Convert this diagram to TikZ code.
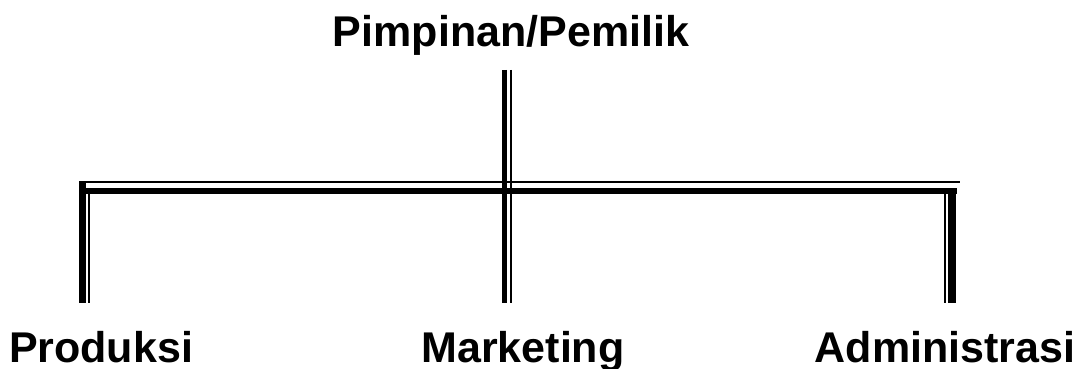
\documentclass[tikz,border=0pt]{standalone}
\usepackage{fontspec}
\setmainfont{Liberation Sans}
\begin{document}
\begin{tikzpicture}[x=1pt,y=-1pt,
  lbl/.style={font=\fontsize{43}{50}\selectfont\bfseries, inner sep=0pt, anchor=base},
  heavy/.style={line width=6.5pt, line cap=butt},
  light/.style={line width=1.8pt, line cap=butt}]
\useasboundingbox (0,0) rectangle (1080,369);
% labels
\node[lbl] (top) at (511,47) {Pimpinan/Pemilik};
\node[lbl] (prod) at (101,362) {Produksi};
\node[lbl] (mark) at (523,362) {Marketing};
\node[lbl] (adm) at (945,362) {Administrasi};
% junction coordinates
\coordinate (hL) at (79,191);
\coordinate (hR) at (957,191);
\coordinate (tL) at (79,181.8);
\coordinate (tR) at (960,181.8);
\coordinate (mTopA) at (504.5,70);
\coordinate (mTopB) at (511,70);
\coordinate (mBotA) at (504.5,303);
\coordinate (mBotB) at (511,303);
\coordinate (lTopA) at (82.5,181);
\coordinate (lBotA) at (82.5,303);
\coordinate (lTopB) at (89,194);
\coordinate (lBotB) at (89,303);
\coordinate (rTopA) at (952,188);
\coordinate (rBotA) at (952,303);
\coordinate (rTopB) at (945,194);
\coordinate (rBotB) at (945,303);
% horizontal bar (thin over thick)
\draw[light] (tL) -- (tR);
\draw[heavy] (hL) -- (hR);
% left branch
\draw[line width=7pt] (lTopA) -- (lBotA);
\draw[line width=1.5pt] (lTopB) -- (lBotB);
% middle trunk
\draw[line width=5pt] (mTopA) -- (mBotA);
\draw[line width=2pt] (mTopB) -- (mBotB);
% right branch
\draw[line width=7.5pt] (rTopA) -- (rBotA);
\draw[line width=1.5pt] (rTopB) -- (rBotB);
\end{tikzpicture}
\end{document}
